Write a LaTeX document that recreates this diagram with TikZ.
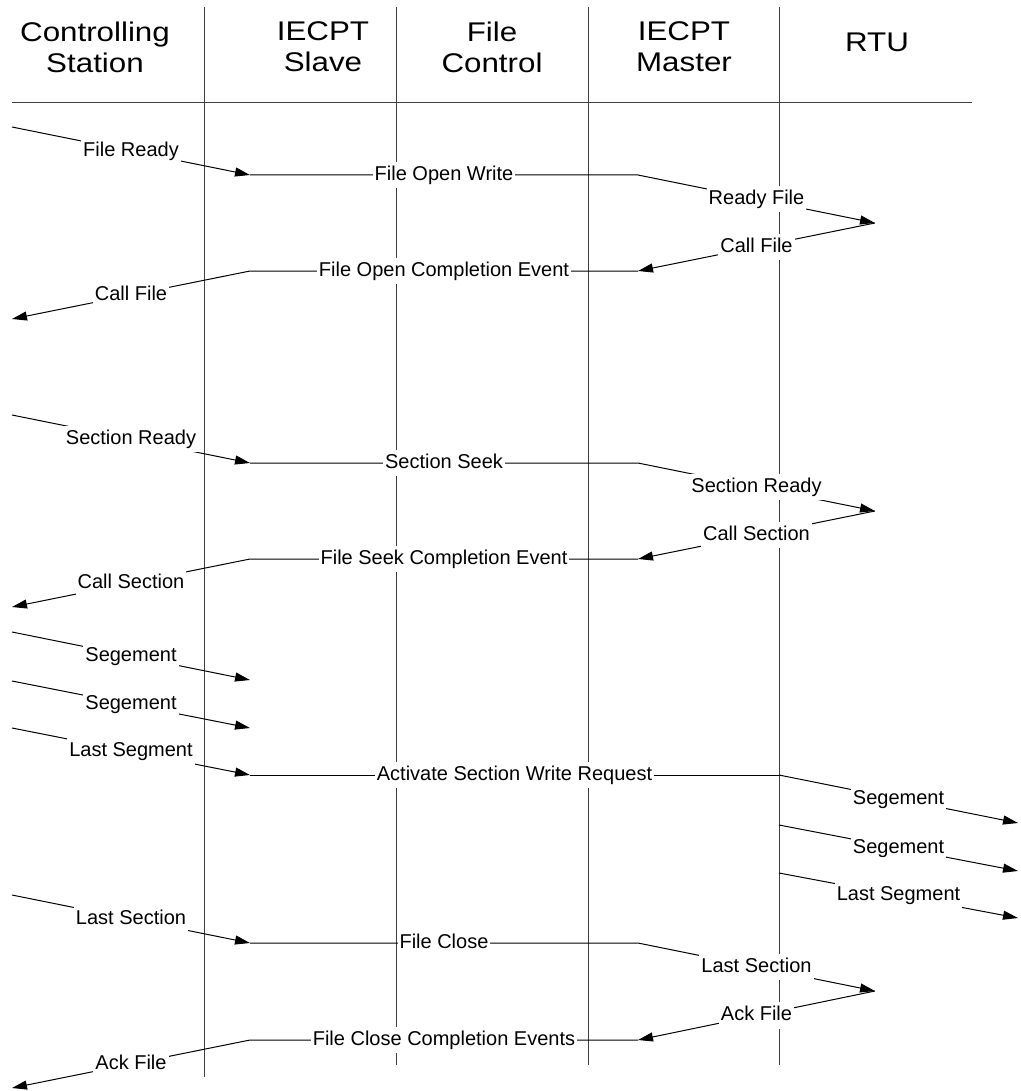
\documentclass[tikz,border=0pt]{standalone}
\usepackage{fontspec}
\setmainfont{Liberation Sans}
\newfontfamily\headfont[FakeStretch=1.16]{Liberation Sans}
\usetikzlibrary{arrows.meta}

\begin{document}
\begin{tikzpicture}[x=1pt,y=-1pt,
  lifeline/.style={draw=black!75, line width=1pt},
  msg/.style={draw=black, line width=1pt},
  call/.style={msg, -{Triangle[length=15pt,width=9pt]}},
  lbl/.style={fill=white, font=\fontsize{20}{24}\selectfont,
    inner xsep=2pt, inner ysep=4pt, text height=14.5pt, text depth=4pt},
  head/.style={align=center, inner sep=0pt,
    font=\headfont\fontsize{27}{31}\selectfont}
]
\useasboundingbox (0,0) rectangle (1020,1091);

% lifelines
\coordinate (cs-top) at (204,7);  \coordinate (cs-bot) at (204,1077);
\coordinate (sl-top) at (396,7);  \coordinate (sl-bot) at (396,1065);
\coordinate (fc-top) at (588,7);  \coordinate (fc-bot) at (588,1065);
\coordinate (ms-top) at (779,7);  \coordinate (ms-bot) at (779,1065);
\draw[lifeline] (cs-top) -- (cs-bot);
\draw[lifeline] (sl-top) -- (sl-bot);
\draw[lifeline] (fc-top) -- (fc-bot);
\draw[lifeline] (ms-top) -- (ms-bot);

% header rule
\coordinate (rule-l) at (12,103);
\coordinate (rule-r) at (972,103);
\draw[lifeline] (rule-l) -- (rule-r);

% column titles
\node[head] (h-cs)  at (95,47)    {Controlling\\Station};
\node[head] (h-sl)  at (323,47)   {IECPT\\Slave};
\node[head] (h-fc)  at (492,47)   {File\\Control};
\node[head] (h-ms)  at (684,47)   {IECPT\\Master};
\node[head] (h-rtu) at (877,42.5) {RTU};

% --- open file ---
\coordinate (A0) at (12,127);
\coordinate (A1) at (250,175);
\coordinate (A2) at (638,175);
\coordinate (A3) at (875,223);
\coordinate (A4) at (638,271);
\coordinate (A5) at (250,271);
\coordinate (A6) at (12,319);
\draw[call] (A0) -- node[lbl] (a-l1) {File Ready} (A1);
\draw[call] (A1) -- node[lbl] (a-l2) {File Open Write} (A2)
                 -- node[lbl] (a-l3) {Ready File} (A3);
\draw[call] (A3) -- node[lbl] (a-l4) {Call File} (A4);
\draw[call] (A4) -- node[lbl] (a-l5) {File Open Completion Event} (A5)
                 -- node[lbl] (a-l6) {Call File} (A6);

% --- seek section ---
\coordinate (B0) at (12,415);
\coordinate (B1) at (250,463);
\coordinate (B2) at (638,463);
\coordinate (B3) at (875,511);
\coordinate (B4) at (638,559);
\coordinate (B5) at (250,559);
\coordinate (B6) at (12,607);
\draw[call] (B0) -- node[lbl] (b-l1) {Section Ready} (B1);
\draw[call] (B1) -- node[lbl] (b-l2) {Section Seek} (B2)
                 -- node[lbl] (b-l3) {Section Ready} (B3);
\draw[call] (B3) -- node[lbl] (b-l4) {Call Section} (B4);
\draw[call] (B4) -- node[lbl] (b-l5) {File Seek Completion Event} (B5)
                 -- node[lbl] (b-l6) {Call Section} (B6);

% --- segments ---
\coordinate (C0)  at (12,632);
\coordinate (C1)  at (250,680);
\coordinate (C2)  at (12,681);
\coordinate (C3)  at (250,728);
\coordinate (C4)  at (12,728);
\coordinate (C5)  at (250,775);
\coordinate (C6)  at (779,775);
\coordinate (C7)  at (1018,823);
\coordinate (C8)  at (779,825);
\coordinate (C9)  at (1018,871);
\coordinate (C10) at (779,873);
\coordinate (C11) at (1018,918);
\draw[call] (C0) -- node[lbl] (c-l1) {Segement} (C1);
\draw[call] (C2) -- node[lbl] (c-l2) {Segement} (C3);
\draw[call] (C4) -- node[lbl] (c-l3) {Last Segment} (C5);
\draw[msg]  (C5) -- node[lbl] (c-l4) {Activate Section Write Request} (C6);
\draw[call] (C6) -- node[lbl] (c-l5) {Segement} (C7);
\draw[call] (C8) -- node[lbl] (c-l6) {Segement} (C9);
\draw[call] (C10) -- node[lbl] (c-l7) {Last Segment} (C11);

% --- close file ---
\coordinate (D0) at (12,895);
\coordinate (D1) at (250,943);
\coordinate (D2) at (638,943);
\coordinate (D3) at (875,991);
\coordinate (D4) at (638,1040);
\coordinate (D5) at (250,1040);
\coordinate (D6) at (12,1088);
\draw[call] (D0) -- node[lbl] (d-l1) {Last Section} (D1);
\draw[call] (D1) -- node[lbl] (d-l2) {File Close} (D2)
                 -- node[lbl] (d-l3) {Last Section} (D3);
\draw[call] (D3) -- node[lbl] (d-l4) {Ack File} (D4);
\draw[call] (D4) -- node[lbl] (d-l5) {File Close Completion Events} (D5)
                 -- node[lbl] (d-l6) {Ack File} (D6);
\end{tikzpicture}
\end{document}
